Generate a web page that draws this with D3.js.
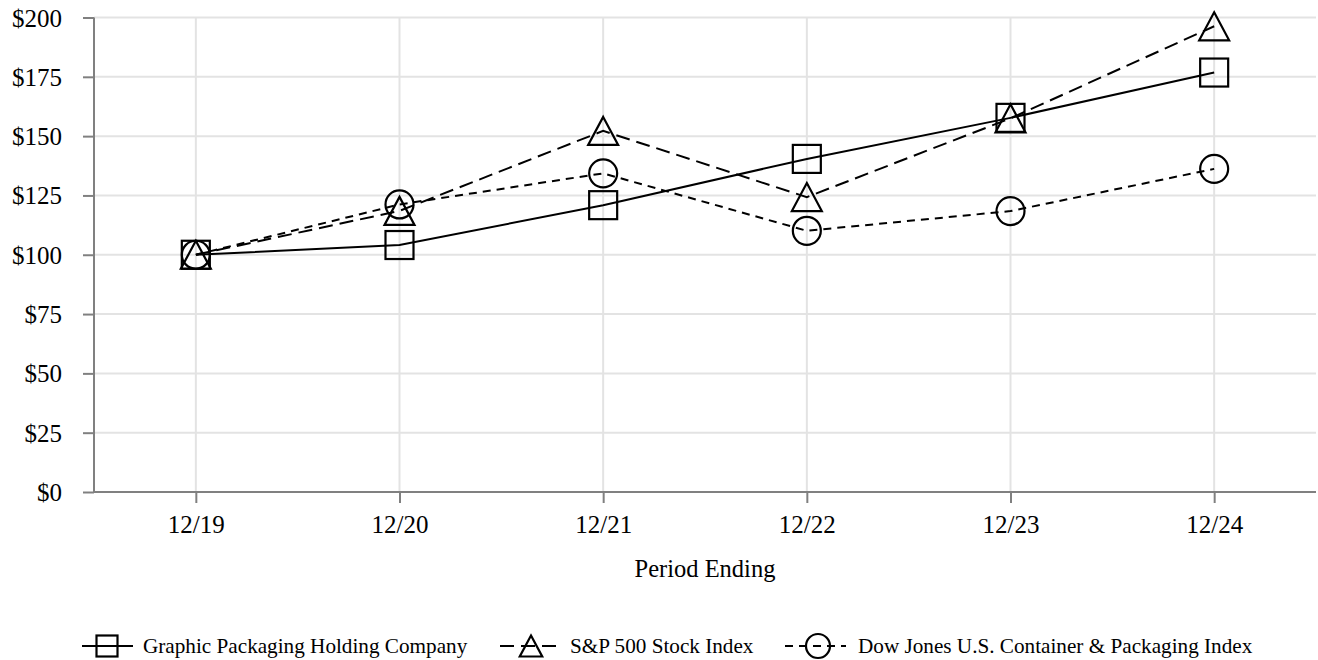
<!DOCTYPE html>
<html>
<head>
<meta charset="utf-8">
<script src="https://cdn.jsdelivr.net/npm/d3@7"></script>
<style>
  html, body { margin: 0; padding: 0; background: #fff; }
  svg { display: block; font-family: "Liberation Serif", "Times New Roman", serif; }
</style>
</head>
<body>
<svg id="chart" width="1318" height="660"></svg>
<script>
const periods = ["12/19", "12/20", "12/21", "12/22", "12/23", "12/24"];
const gpkValues = [100, 104.1, 120.9, 140.4, 157.7, 176.8];
const spValues = [100, 118.5, 152.2, 124.3, 157.5, 196.3];
const djValues = [100, 121.2, 134.3, 110.1, 118.4, 136.2];
const yTicks = [0, 25, 50, 75, 100, 125, 150, 175, 200];
const seriesNames = ["Graphic Packaging Holding Company", "S&P 500 Stock Index", "Dow Jones U.S. Container & Packaging Index"];

(function () {
const series = [
  { name: seriesNames[0], values: gpkValues, dash: null, marker: "square" },
  { name: seriesNames[1], values: spValues, dash: "14,7", marker: "triangle" },
  { name: seriesNames[2], values: djValues, dash: "8,6", marker: "circle" }
];

const svg = d3.select("#chart");
const plotLeft = 94, plotRight = 1316, plotTop = 17.5, plotBottom = 492;
const tickFont = 25;

const x = d3.scalePoint().domain(periods).range([plotLeft, plotRight]).padding(0.5);
const y = d3.scaleLinear().domain([0, 200]).range([plotBottom, plotTop]);

const gridColor = "#e3e3e3";
const axisColor = "#808080";

// gridlines
svg.append("g").selectAll("line").data(yTicks).join("line")
  .attr("x1", plotLeft).attr("x2", plotRight)
  .attr("y1", d => y(d)).attr("y2", d => y(d))
  .attr("stroke", gridColor).attr("stroke-width", 2);
svg.append("g").selectAll("line").data(periods).join("line")
  .attr("x1", d => x(d)).attr("x2", d => x(d))
  .attr("y1", plotTop).attr("y2", plotBottom)
  .attr("stroke", gridColor).attr("stroke-width", 2);

// y axis
const yAxis = svg.append("g").attr("transform", `translate(${plotLeft},0)`)
  .call(d3.axisLeft(y).tickValues(yTicks).tickFormat(d => "$" + d).tickSize(11).tickPadding(21));
yAxis.select(".domain").remove();
yAxis.selectAll(".tick line").attr("stroke", axisColor).attr("stroke-width", 2);
yAxis.selectAll(".tick text").attr("font-size", tickFont).attr("fill", "#000")
  .attr("font-family", "Liberation Serif, Times New Roman, serif").attr("dy", "0.34em");
svg.append("line").attr("x1", plotLeft).attr("x2", plotLeft).attr("y1", plotTop).attr("y2", plotBottom)
  .attr("stroke", axisColor).attr("stroke-width", 2);

// x axis
const xAxis = svg.append("g").attr("transform", `translate(0,${plotBottom})`)
  .call(d3.axisBottom(x).tickSize(11).tickPadding(12));
xAxis.select(".domain").remove();
xAxis.selectAll(".tick line").attr("stroke", axisColor).attr("stroke-width", 2);
xAxis.selectAll(".tick text").attr("font-size", tickFont).attr("fill", "#000")
  .attr("font-family", "Liberation Serif, Times New Roman, serif");
svg.append("line").attr("x1", plotLeft).attr("x2", plotRight).attr("y1", plotBottom).attr("y2", plotBottom)
  .attr("stroke", axisColor).attr("stroke-width", 2);

svg.append("text").attr("x", (plotLeft + plotRight) / 2).attr("y", 577)
  .attr("text-anchor", "middle").attr("font-size", 24.5).attr("fill", "#000")
  .text("Period Ending");

function drawMarker(g, type, cx, cy, s) {
  if (type === "square") {
    g.append("rect").attr("x", cx - s / 2).attr("y", cy - s / 2)
      .attr("width", s).attr("height", s)
      .attr("fill", "none").attr("stroke", "#000").attr("stroke-width", 2.2);
  } else if (type === "triangle") {
    const w = s * 1.07, h = s;
    g.append("path")
      .attr("d", `M${cx},${cy - h / 2}L${cx + w / 2},${cy + h / 2}L${cx - w / 2},${cy + h / 2}Z`)
      .attr("fill", "none").attr("stroke", "#000").attr("stroke-width", 2.2);
  } else {
    g.append("circle").attr("cx", cx).attr("cy", cy).attr("r", s / 2)
      .attr("fill", "none").attr("stroke", "#000").attr("stroke-width", 2.2);
  }
}

const line = d3.line().x((d, i) => x(periods[i])).y(d => y(d));

series.forEach(s => {
  const g = svg.append("g");
  g.append("path").datum(s.values).attr("d", line)
    .attr("fill", "none").attr("stroke", "#000").attr("stroke-width", 2)
    .attr("stroke-dasharray", s.dash);
  s.values.forEach((v, i) => drawMarker(g, s.marker, x(periods[i]), y(v), 28));
});

// legend
const legendY = 646;
const legendItems = [
  { s: series[0], x1: 82, x2: 133, cx: 107, tx: 143 },
  { s: series[1], x1: 500, x2: 560, cx: 531, tx: 570 },
  { s: series[2], x1: 785, x2: 846, cx: 818, tx: 858 }
];
legendItems.forEach(it => {
  const g = svg.append("g");
  g.append("line").attr("x1", it.x1).attr("x2", it.x2).attr("y1", legendY).attr("y2", legendY)
    .attr("stroke", "#000").attr("stroke-width", 2).attr("stroke-dasharray", it.s.dash);
  drawMarker(g, it.s.marker, it.cx, legendY, it.s.marker === "circle" ? 24 : 21);
  g.append("text").attr("x", it.tx).attr("y", legendY).attr("dy", "0.33em")
    .attr("font-size", 21.2).attr("fill", "#000").text(it.s.name);
});
})();
</script>
</body>
</html>
